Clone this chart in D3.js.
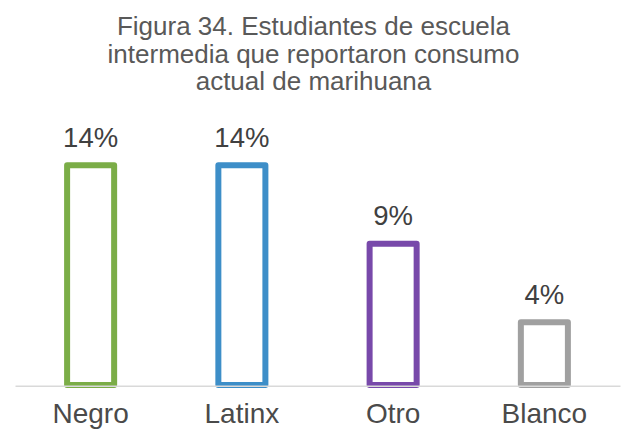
<!DOCTYPE html>
<html>
<head>
<meta charset="utf-8">
<script src="https://cdn.jsdelivr.net/npm/d3@7"></script>
<style>
  html, body { margin: 0; padding: 0; background: #ffffff; }
  svg { display: block; font-family: "Liberation Sans", Arial, Helvetica, sans-serif; }
</style>
</head>
<body>
<svg id="chart" width="626" height="431"></svg>
<script>
// Current marijuana use among middle-school students, by group
const categories = ["Negro", "Latinx", "Otro", "Blanco"];
const values = [14, 14, 9, 4];
const barColors = ["#7bad47", "#3d8ec8", "#7849aa", "#a0a0a0"];
const titleLines = [
  "Figura 34. Estudiantes de escuela",
  "intermedia que reportaron consumo",
  "actual de marihuana"
];

const svg = d3.select("#chart");
const W = 626;

const x = d3.scaleBand()
  .domain(categories)
  .range([15, 620])
  .paddingInner(0.689)
  .paddingOuter(0.3445);

const y = d3.scaleLinear()
  .domain([0, 15])
  .range([385, 385 - 15 * 15.7]);

// Title
svg.append("g")
  .selectAll("text")
  .data(titleLines)
  .join("text")
  .attr("x", W / 2 + 0.5)
  .attr("y", (d, i) => 35 + i * 27.5)
  .attr("text-anchor", "middle")
  .attr("font-size", 26)
  .attr("fill", "#595959")
  .text(d => d);

// Outlined bars
svg.append("g")
  .selectAll("rect")
  .data(values)
  .join("rect")
  .attr("x", (d, i) => x(categories[i]))
  .attr("y", d => y(d))
  .attr("width", x.bandwidth())
  .attr("height", d => y(0) - y(d))
  .attr("fill", "#ffffff")
  .attr("stroke", (d, i) => barColors[i])
  .attr("stroke-width", 6)
  .attr("stroke-linejoin", "round");

// Baseline (category axis)
const xAxis = svg.append("g")
  .attr("transform", `translate(0,${y(0) + 0.7})`)
  .call(d3.axisBottom(x).tickSize(0));
xAxis.select(".domain")
  .attr("stroke", "#d9d9d9")
  .attr("stroke-width", 1.5);
xAxis.selectAll(".tick text")
  .attr("y", 37.5)
  .attr("dy", 0)
  .attr("font-size", 28)
  .attr("font-family", "Liberation Sans, Arial, sans-serif")
  .attr("fill", "#4a4a4a");

// Value labels
svg.append("g")
  .selectAll("text")
  .data(values)
  .join("text")
  .attr("x", (d, i) => x(categories[i]) + x.bandwidth() / 2)
  .attr("y", d => y(d) - 18.5)
  .attr("text-anchor", "middle")
  .attr("font-size", 27.5)
  .attr("fill", "#404040")
  .text(d => d + "%");
</script>
</body>
</html>
